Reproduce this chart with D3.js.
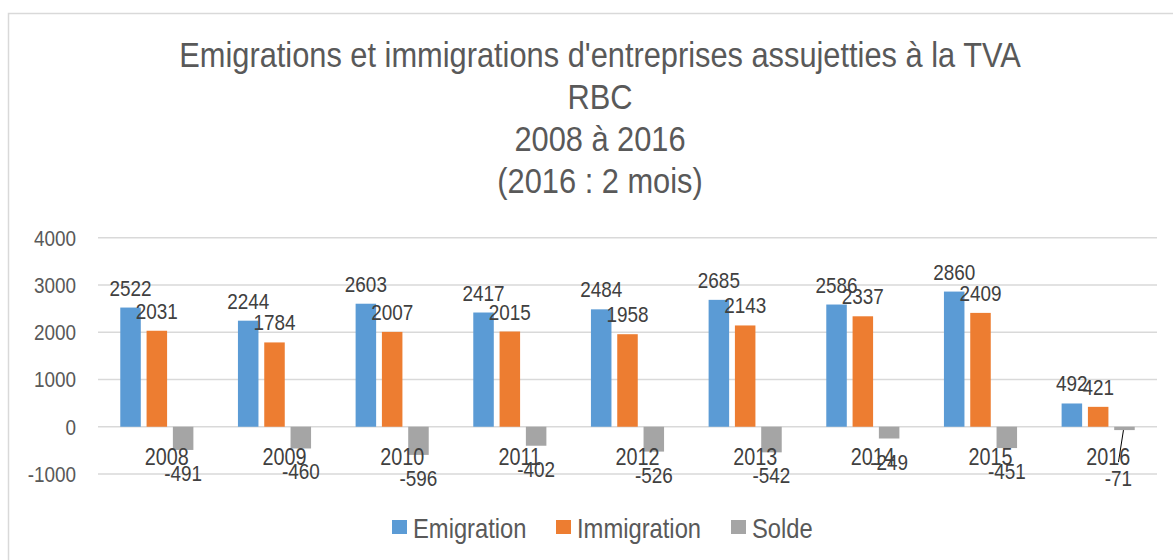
<!DOCTYPE html>
<html>
<head>
<meta charset="utf-8">
<script src="https://cdn.jsdelivr.net/npm/d3@7"></script>
<style>
  body { margin: 0; background: #fff; }
  text { font-family: "Liberation Sans", Arial, sans-serif; fill: #595959; }
  .dark { fill: #404040; }
</style>
</head>
<body>
<div id="chart"></div>
<script>
const years = ["2008", "2009", "2010", "2011", "2012", "2013", "2014", "2015", "2016"];
const emigration = [2522, 2244, 2603, 2417, 2484, 2685, 2586, 2860, 492];
const immigration = [2031, 1784, 2007, 2015, 1958, 2143, 2337, 2409, 421];
const solde = [-491, -460, -596, -402, -526, -542, -249, -451, -71];
const seriesNames = ["Emigration", "Immigration", "Solde"];
const seriesColors = ["#5B9BD5", "#ED7D31", "#A5A5A5"];
const yTicks = [-1000, 0, 1000, 2000, 3000, 4000];
const titleLines = [
  "Emigrations et immigrations d'entreprises assujetties à la TVA",
  "RBC",
  "2008 à 2016",
  "(2016 : 2 mois)"
];

const width = 1173, height = 560;
const plotLeft = 98, plotRight = 1157;

// text in the reference is horizontally condensed
function place(sel, fx, fy, sx) {
  sel.attr("transform", (d, i) => "translate(" + fx(d, i) + "," + fy(d, i) + ") scale(" + sx + ",1)");
}

const svg = d3.select("#chart").append("svg")
  .attr("width", width)
  .attr("height", height);

// Chart area border (cut by window)
svg.append("rect")
  .attr("x", 8.5).attr("y", 13.5)
  .attr("width", 1200).attr("height", 600)
  .attr("fill", "none")
  .attr("stroke", "#D9D9D9")
  .attr("stroke-width", 1.5);

// Title
let title = svg.append("g")
  .selectAll("text")
  .data(titleLines)
  .join("text")
  .attr("text-anchor", "middle")
  .style("font-size", "35px")
  .text(d => d);
place(title, () => 600, (d, i) => 67 + i * 42, 0.88);

// Scales
let y = d3.scaleLinear()
  .domain([-1000, 4000])
  .range([474, 237.7]);

let x0 = d3.scaleBand()
  .domain(years)
  .range([plotLeft, plotRight]);

let step = 26.3;
let x1 = d3.scaleBand()
  .domain(seriesNames)
  .range([-1.5 * step, 1.5 * step])
  .paddingInner(0.22)
  .paddingOuter(0.11);

// Gridlines
svg.append("g")
  .selectAll("line")
  .data(yTicks)
  .join("line")
  .attr("x1", plotLeft)
  .attr("x2", plotRight)
  .attr("y1", d => y(d))
  .attr("y2", d => y(d))
  .attr("stroke", "#D9D9D9")
  .attr("stroke-width", 1.5);

// Y tick labels
let ticks = svg.append("g")
  .selectAll("text")
  .data(yTicks)
  .join("text")
  .attr("text-anchor", "end")
  .style("font-size", "22px")
  .text(d => d);
place(ticks, () => 76, d => y(d) + 8, 0.86);

// Bars
let values = [emigration, immigration, solde];
let rows = [];
years.forEach((yr, i) => {
  seriesNames.forEach((s, j) => {
    rows.push({year: yr, series: s, color: seriesColors[j], value: values[j][i]});
  });
});

let barX = d => x0(d.year) + x0.bandwidth() / 2 + x1(d.series);

svg.append("g")
  .selectAll("rect")
  .data(rows)
  .join("rect")
  .attr("x", barX)
  .attr("width", x1.bandwidth())
  .attr("y", d => y(Math.max(0, d.value)))
  .attr("height", d => Math.abs(y(d.value) - y(0)))
  .attr("fill", d => d.color);

// Category labels (just under the zero line)
let cats = svg.append("g")
  .selectAll("text")
  .data(years)
  .join("text")
  .classed("dark", true)
  .attr("text-anchor", "middle")
  .style("font-size", "23px")
  .text(d => d);
place(cats, d => x0(d) + x0.bandwidth() / 2 + 10, () => y(0) + 38, 0.86);

// Value labels
let small = d => d.value < 0 && d.value > -100;
let labelY = d => {
  if (d.value >= 0) return y(d.value) - 12;
  return y(d.value) + 31 + (small(d) ? 25 : 0);
};

let vals = svg.append("g")
  .selectAll("text")
  .data(rows)
  .join("text")
  .classed("dark", true)
  .attr("text-anchor", "middle")
  .style("font-size", "22px")
  .text(d => d.value);
place(vals, d => barX(d) + x1.bandwidth() / 2 - (small(d) ? 6 : 0), labelY, 0.86);

// Leader line for the small negative label
svg.append("g")
  .selectAll("line")
  .data(rows.filter(small))
  .join("line")
  .attr("x1", d => barX(d) + x1.bandwidth() / 2 - 1)
  .attr("y1", d => y(d.value))
  .attr("x2", d => barX(d) + x1.bandwidth() / 2 - 6)
  .attr("y2", d => y(d.value) + 32)
  .attr("stroke", "#000")
  .attr("stroke-width", 1);

// Legend
let legendX = [392, 556, 731];
let legend = svg.append("g")
  .selectAll("g")
  .data(seriesNames)
  .join("g")
  .attr("transform", (d, i) => "translate(" + legendX[i] + ",520)");

legend.append("rect")
  .attr("width", 15)
  .attr("height", 14)
  .attr("fill", (d, i) => seriesColors[i]);

let legendText = legend.append("text")
  .style("font-size", "27px")
  .text(d => d);
place(legendText, () => 21, () => 17.5, 0.88);
</script>
</body>
</html>
